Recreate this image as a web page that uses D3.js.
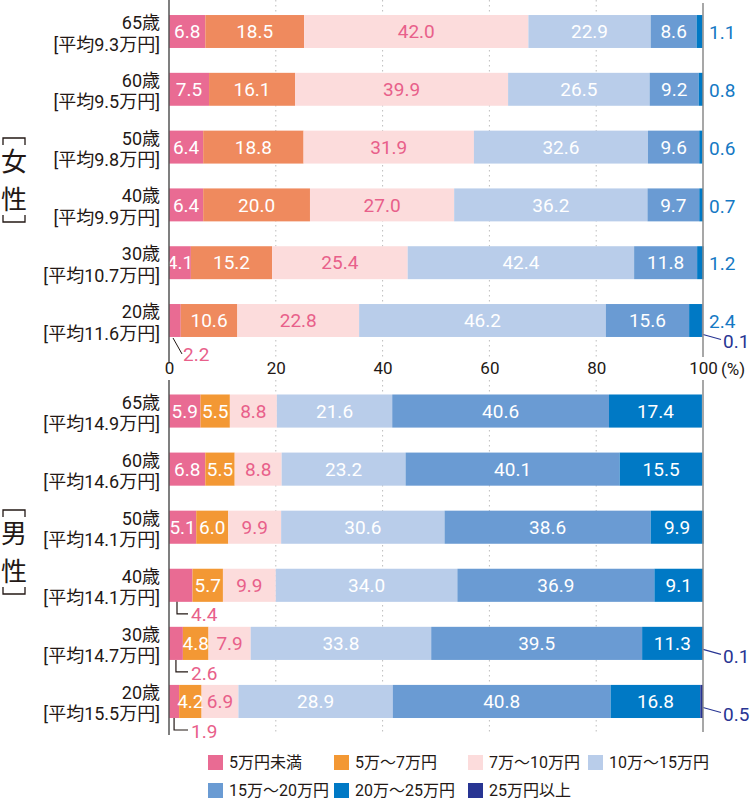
<!DOCTYPE html>
<html>
<head>
<meta charset="utf-8">
<script src="https://cdn.jsdelivr.net/npm/d3@7"></script>
<style>
  body { margin: 0; background: #fff; }
  svg text { font-family: Roboto, "Noto Sans CJK JP", sans-serif; }
</style>
</head>
<body>
<div id="chart"></div>
<script>
// series (income bands)
var seriesNames = ["5万円未満", "5万～7万円", "7万～10万円", "10万～15万円", "15万～20万円", "20万～25万円", "25万円以上"];

// women
var femaleAges = ["65歳", "60歳", "50歳", "40歳", "30歳", "20歳"];
var femaleAvg = ["9.3", "9.5", "9.8", "9.9", "10.7", "11.6"];
var femaleValues = [
  [6.8, 18.5, 42.0, 22.9, 8.6, 1.1, 0],
  [7.5, 16.1, 39.9, 26.5, 9.2, 0.8, 0],
  [6.4, 18.8, 31.9, 32.6, 9.6, 0.6, 0],
  [6.4, 20.0, 27.0, 36.2, 9.7, 0.7, 0],
  [4.1, 15.2, 25.4, 42.4, 11.8, 1.2, 0],
  [2.2, 10.6, 22.8, 46.2, 15.6, 2.4, 0.1]
];

// men
var maleAges = ["65歳", "60歳", "50歳", "40歳", "30歳", "20歳"];
var maleAvg = ["14.9", "14.6", "14.1", "14.1", "14.7", "15.5"];
var maleValues = [
  [5.9, 5.5, 8.8, 21.6, 40.6, 17.4, 0],
  [6.8, 5.5, 8.8, 23.2, 40.1, 15.5, 0],
  [5.1, 6.0, 9.9, 30.6, 38.6, 9.9, 0],
  [4.4, 5.7, 9.9, 34.0, 36.9, 9.1, 0],
  [2.6, 4.8, 7.9, 33.8, 39.5, 11.3, 0.1],
  [1.9, 4.2, 6.9, 28.9, 40.8, 16.8, 0.5]
];

var xTicks = [0, 20, 40, 60, 80, 100];

var W = 750, H = 799;
var ink = "#231815";
var pinkText = "#e8608a";
var blueText = "#1479c4";
var navy = "#283593";

var baseColors = ["#e96b93", "#f39834", "#fcdcdc", "#b9cdea", "#6a9bd3", "#0079c5", navy];
var femaleColors = baseColors.slice(); femaleColors[1] = "#ef8a5e";
var textColors = ["#fff", "#fff", pinkText, "#fff", "#fff", "#fff", "#fff"];

var svg = d3.select("#chart").append("svg")
    .attr("width", W)
    .attr("height", H);

var x = d3.scaleLinear().domain([0, 100]).range([169, 703]);

var panels = [
  { key: "female", title: ["女", "性"], ages: femaleAges, avg: femaleAvg, values: femaleValues,
    colors: femaleColors, y0: 2.6, y1: 349.4, top: 0, bottom: 360, minInside: 4, titleY: 180,
    leader: "diag", rightLabel: true, navyDy: 14, axis: true },
  { key: "male", title: ["男", "性"], ages: maleAges, avg: maleAvg, values: maleValues,
    colors: baseColors, y0: 382, y1: 730.5, top: 380, bottom: 735, minInside: 5, titleY: 552,
    leader: "elbow", rightLabel: false, navyDy: 6, axis: false }
];

panels.forEach(drawPanel);

function drawPanel(p) {
  var g = svg.append("g").attr("class", "panel-" + p.key);

  var y = d3.scaleBand().domain(p.ages).range([p.y0, p.y1])
      .paddingInner(0.43).paddingOuter(0.215);
  var bh = y.bandwidth();

  // dotted gridlines
  g.selectAll("line.grid")
    .data(xTicks.slice(1, -1))
    .enter().append("line")
      .attr("class", "grid")
      .attr("x1", function(d) { return x(d); })
      .attr("x2", function(d) { return x(d); })
      .attr("y1", p.top)
      .attr("y2", p.bottom)
      .attr("stroke", "#bdbdbd")
      .attr("stroke-width", 1)
      .attr("stroke-dasharray", "1.5,3.5");

  // stacked bars
  var rows = p.ages.map(function(a, i) {
    var r = { age: a };
    p.values[i].forEach(function(v, k) { r[k] = v; });
    return r;
  });
  var stack = d3.stack().keys(d3.range(seriesNames.length));
  var layers = stack(rows);

  var layer = g.selectAll("g.layer")
    .data(layers)
    .enter().append("g")
      .attr("class", "layer")
      .attr("fill", function(d, i) { return p.colors[i]; });

  layer.selectAll("rect")
    .data(function(d) { return d; })
    .enter().append("rect")
      .attr("x", function(d) { return x(d[0]); })
      .attr("y", function(d) { return y(d.data.age); })
      .attr("width", function(d) { return Math.max(0, x(d[1]) - x(d[0])); })
      .attr("height", bh);

  // value labels
  layers.forEach(function(L, k) {
    L.forEach(function(d) {
      var v = d.data[k];
      if (!(v > 0)) return;
      var cy = y(d.data.age) + bh / 2;
      var bottom = y(d.data.age) + bh;
      var x0 = x(d[0]), x1 = x(d[1]);
      var txt = d3.format(".1f")(v);

      if (k === 0 && v < p.minInside) {
        if (p.leader === "diag") {
          g.append("line")
            .attr("x1", x0 + 4).attr("y1", bottom + 1)
            .attr("x2", x0 + 13).attr("y2", bottom + 17)
            .attr("stroke", ink).attr("stroke-width", 1);
          addText(g, x0 + 14, bottom + 17, txt, pinkText, "start");
        } else {
          var xm = Math.min((x0 + x1) / 2, x0 + 8);
          g.append("path")
            .attr("d", "M" + xm + "," + bottom + "V" + (bottom + 12) + "H" + (x0 + 19))
            .attr("fill", "none").attr("stroke", ink).attr("stroke-width", 1.2);
          addText(g, x0 + 22, bottom + 13, txt, pinkText, "start");
        }
      } else if (k === 5 && p.rightLabel) {
        addText(g, 709, cy + 1, txt, blueText, "start");
      } else if (k === 6) {
        g.append("line")
          .attr("x1", x(100)).attr("y1", cy + p.navyDy)
          .attr("x2", 721).attr("y2", cy + p.navyDy + 5)
          .attr("stroke", navy).attr("stroke-width", 1.2);
        addText(g, 723, cy + p.navyDy + 7, txt, navy, "start");
      } else {
        addText(g, (x0 + x1) / 2, cy, txt, textColors[k], "middle");
      }
    });
  });

  // category labels
  var cat = g.selectAll("g.cat")
    .data(p.ages)
    .enter().append("g")
      .attr("class", "cat")
      .attr("transform", function(d) { return "translate(160," + (y(d) + bh / 2) + ")"; });
  cat.append("text")
    .attr("text-anchor", "end")
    .attr("y", -2.5)
    .attr("font-size", 18)
    .attr("fill", ink)
    .text(function(d) { return d; });
  cat.append("text")
    .attr("text-anchor", "end")
    .attr("y", 19)
    .attr("font-size", 18)
    .attr("fill", ink)
    .text(function(d, i) { return "[平均" + p.avg[i] + "万円]"; });

  // axis lines
  g.append("line")
    .attr("x1", x(0)).attr("x2", x(0))
    .attr("y1", p.top).attr("y2", p.key === "female" ? 362 : p.bottom)
    .attr("stroke", "#555").attr("stroke-width", 1.5);
  g.append("line")
    .attr("x1", x(100)).attr("x2", x(100))
    .attr("y1", p.top + (p.key === "female" ? 3 : 0)).attr("y2", p.bottom - 3)
    .attr("stroke", "#8a8a8a").attr("stroke-width", 1.5);

  // group title, vertical with brackets
  var tg = g.append("g").attr("transform", "translate(14," + p.titleY + ")");
  tg.append("path")
    .attr("d", "M-11,-35V-42H11V-35")
    .attr("fill", "none").attr("stroke", ink).attr("stroke-width", 1.3);
  tg.append("path")
    .attr("d", "M-11,35V42H11V35")
    .attr("fill", "none").attr("stroke", ink).attr("stroke-width", 1.3);
  tg.selectAll("text")
    .data(p.title)
    .enter().append("text")
      .attr("text-anchor", "middle")
      .attr("dominant-baseline", "central")
      .attr("y", function(d, i) { return i === 0 ? -18 : 20; })
      .attr("font-size", 26)
      .attr("fill", ink)
      .text(function(d) { return d; });

  // x axis (women panel only)
  if (p.axis) {
    var ax = g.append("g")
      .attr("transform", "translate(0,360)")
      .call(d3.axisBottom(x).tickValues(xTicks).tickSize(0).tickPadding(2).tickFormat(d3.format("d")));
    ax.select(".domain").remove();
    ax.selectAll("text")
      .attr("font-size", 17)
      .attr("fill", ink)
      .style("font-family", "Roboto, 'Noto Sans CJK JP', sans-serif");
    g.append("text")
      .attr("x", 721).attr("y", 375)
      .attr("font-size", 17).attr("fill", ink)
      .text("(%)");
  }
}

function addText(g, tx, ty, txt, color, anchor) {
  g.append("text")
    .attr("x", tx).attr("y", ty)
    .attr("dy", "0.35em")
    .attr("text-anchor", anchor)
    .attr("font-size", 19)
    .attr("fill", color)
    .text(txt);
}

// legend
var colX = [208, 334, 468, 588];
var rowY = [755, 783];
var leg = svg.selectAll("g.legend")
  .data(seriesNames)
  .enter().append("g")
    .attr("class", "legend")
    .attr("transform", function(d, i) { return "translate(" + colX[i % 4] + "," + rowY[Math.floor(i / 4)] + ")"; });
leg.append("rect")
  .attr("width", 15).attr("height", 15)
  .attr("fill", function(d, i) { return baseColors[i]; });
leg.append("text")
  .attr("x", 21).attr("y", 7.5)
  .attr("dy", "0.35em")
  .attr("font-size", 16)
  .attr("fill", ink)
  .text(function(d) { return d; });
</script>
</body>
</html>
